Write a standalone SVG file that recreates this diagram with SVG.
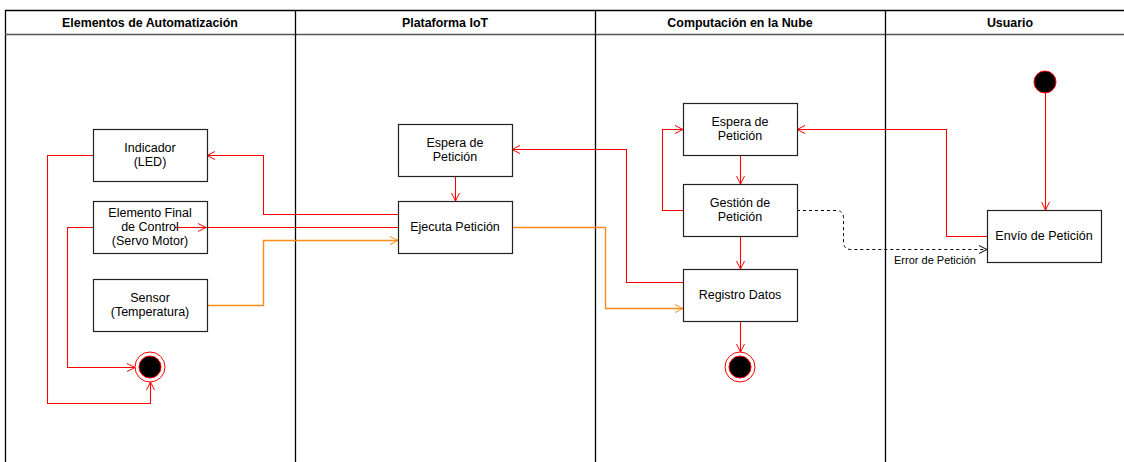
<svg xmlns="http://www.w3.org/2000/svg" width="1124" height="462" viewBox="0 0 1124 462">
  <style>
    .lane { fill: none; stroke: #000; stroke-width: 1.3; }
    .hdr { font-family: "Liberation Sans", Arial, sans-serif; font-size: 12.4px; font-weight: bold; fill: #000; text-anchor: middle; }
    .box { fill: #fff; stroke: #222; stroke-width: 1.2; }
    .lbl { font-family: "Liberation Sans", Arial, sans-serif; font-size: 12.5px; fill: #000; text-anchor: middle; }
    .small { font-family: "Liberation Sans", Arial, sans-serif; font-size: 11px; fill: #000; text-anchor: middle; }
    .red { fill: none; stroke: #ff0000; stroke-width: 1.1; marker-end: url(#openRed); }
    .redplain { fill: none; stroke: #ff0000; stroke-width: 1.1; }
    .orange { fill: none; stroke: #ff8c1a; stroke-width: 1.4; marker-end: url(#openOrange); }
    .dash { fill: none; stroke: #000; stroke-width: 1; stroke-dasharray: 3 3; marker-end: url(#openBlack); }
  </style>
  <defs>
    <marker id="openRed" viewBox="0 0 10 10" refX="9" refY="5" markerWidth="10" markerHeight="10" markerUnits="userSpaceOnUse" orient="auto">
      <path d="M1,1 L9,5 L1,9" fill="none" stroke="#ff0000" stroke-width="1"/>
    </marker>
    <marker id="openOrange" viewBox="0 0 10 10" refX="9" refY="5" markerWidth="10" markerHeight="10" markerUnits="userSpaceOnUse" orient="auto">
      <path d="M1,1 L9,5 L1,9" fill="none" stroke="#ff8c1a" stroke-width="1"/>
    </marker>
    <marker id="openBlack" viewBox="0 0 10 10" refX="9" refY="5" markerWidth="10" markerHeight="10" markerUnits="userSpaceOnUse" orient="auto">
      <path d="M1,1 L9,5 L1,9" fill="none" stroke="#000" stroke-width="1"/>
    </marker>
  </defs>

  <rect width="1124" height="462" fill="#fff"/>

  <!-- swimlanes -->
  <g id="lanes">
    <path class="lane" d="M5.5,462 V10.5 H1124"/>
    <path d="M5,34.5 H1124" stroke="#555" stroke-width="1.3" fill="none"/>
    <path class="lane" d="M295.5,10 V462 M595.5,10 V462 M885.5,10 V462"/>
    <text class="hdr" x="150" y="27">Elementos de Automatización</text>
    <text class="hdr" x="445" y="27">Plataforma IoT</text>
    <text class="hdr" x="740" y="27">Computación en la Nube</text>
    <text class="hdr" x="1010" y="27">Usuario</text>
  </g>

  <!-- connectors -->
  <g id="connectors">
    <path class="red" d="M1045.5,93 V210"/>
    <path class="red" d="M987,236.5 H946.5 V129.5 H797"/>
    <path class="red" d="M740.5,155 V184"/>
    <path class="red" d="M683,210.5 H662.5 V129.5 H683"/>
    <path class="red" d="M740.5,236 V269"/>
    <path class="red" d="M740.5,321 V352"/>
    <path class="red" d="M683,282.5 H626.5 V149.5 H512"/>
    <path class="red" d="M455.5,176 V201"/>
    <path class="red" d="M398,214.5 H263.5 V155.5 H207"/>
    <path class="redplain" d="M398,227.5 H175"/>
    <path class="red" d="M190,227.5 H206"/>
    <path class="orange" d="M207,305.5 H263.5 V240.5 H398"/>
    <path class="orange" d="M512,227.5 H605.5 V308.5 H683"/>
    <path class="dash" d="M797,210.5 H836 Q843.5,210.5 843.5,218 V242 Q843.5,249.5 851,249.5 H987"/>
    <text class="small" x="935" y="264">Error de Petición</text>
    <path class="red" d="M93,155.5 H47.5 V403.5 H150.5 V382"/>
    <path class="red" d="M93,227.5 H67.5 V367.5 H135"/>
  </g>

  <!-- automation elements -->
  <g id="indicador">
    <rect class="box" x="93.5" y="129.5" width="114" height="52"/>
    <text class="lbl" x="150" y="152">Indicador</text>
    <text class="lbl" x="150" y="166">(LED)</text>
  </g>
  <g id="elemento-final">
    <rect class="box" x="93.5" y="201.5" width="114" height="52" fill-opacity="0"/>
    <text class="lbl" x="150" y="217">Elemento Final</text>
    <text class="lbl" x="150" y="231">de Control</text>
    <text class="lbl" x="150" y="245">(Servo Motor)</text>
  </g>
  <g id="sensor">
    <rect class="box" x="93.5" y="279.5" width="114" height="52"/>
    <text class="lbl" x="150" y="302">Sensor</text>
    <text class="lbl" x="150" y="316">(Temperatura)</text>
  </g>
  <g id="fin-automatizacion">
    <circle cx="150" cy="367" r="15" fill="#fff" stroke="#ff0000" stroke-width="1"/>
    <circle cx="150" cy="367" r="11" fill="#000" stroke="#ff0000" stroke-width="1"/>
  </g>

  <!-- IoT platform -->
  <g id="espera-iot">
    <rect class="box" x="398.5" y="124.5" width="114" height="52"/>
    <text class="lbl" x="455" y="147">Espera de</text>
    <text class="lbl" x="455" y="161">Petición</text>
  </g>
  <g id="ejecuta">
    <rect class="box" x="398.5" y="201.5" width="114" height="52"/>
    <text class="lbl" x="455" y="231">Ejecuta Petición</text>
  </g>

  <!-- cloud -->
  <g id="espera-nube">
    <rect class="box" x="683.5" y="103.5" width="114" height="52"/>
    <text class="lbl" x="740" y="126">Espera de</text>
    <text class="lbl" x="740" y="140">Petición</text>
  </g>
  <g id="gestion">
    <rect class="box" x="683.5" y="184.5" width="114" height="52"/>
    <text class="lbl" x="740" y="207">Gestión de</text>
    <text class="lbl" x="740" y="221">Petición</text>
  </g>
  <g id="registro">
    <rect class="box" x="683.5" y="269.5" width="114" height="52"/>
    <text class="lbl" x="740" y="299">Registro Datos</text>
  </g>
  <g id="fin-nube">
    <circle cx="740" cy="367" r="15" fill="#fff" stroke="#ff0000" stroke-width="1"/>
    <circle cx="740" cy="367" r="11" fill="#000" stroke="#ff0000" stroke-width="1"/>
  </g>

  <!-- user -->
  <g id="inicio">
    <circle cx="1045" cy="82" r="11" fill="#000" stroke="#ff0000" stroke-width="1"/>
  </g>
  <g id="envio">
    <rect class="box" x="987.5" y="210.5" width="114" height="52"/>
    <text class="lbl" x="1044" y="240">Envío de Petición</text>
  </g>
</svg>
